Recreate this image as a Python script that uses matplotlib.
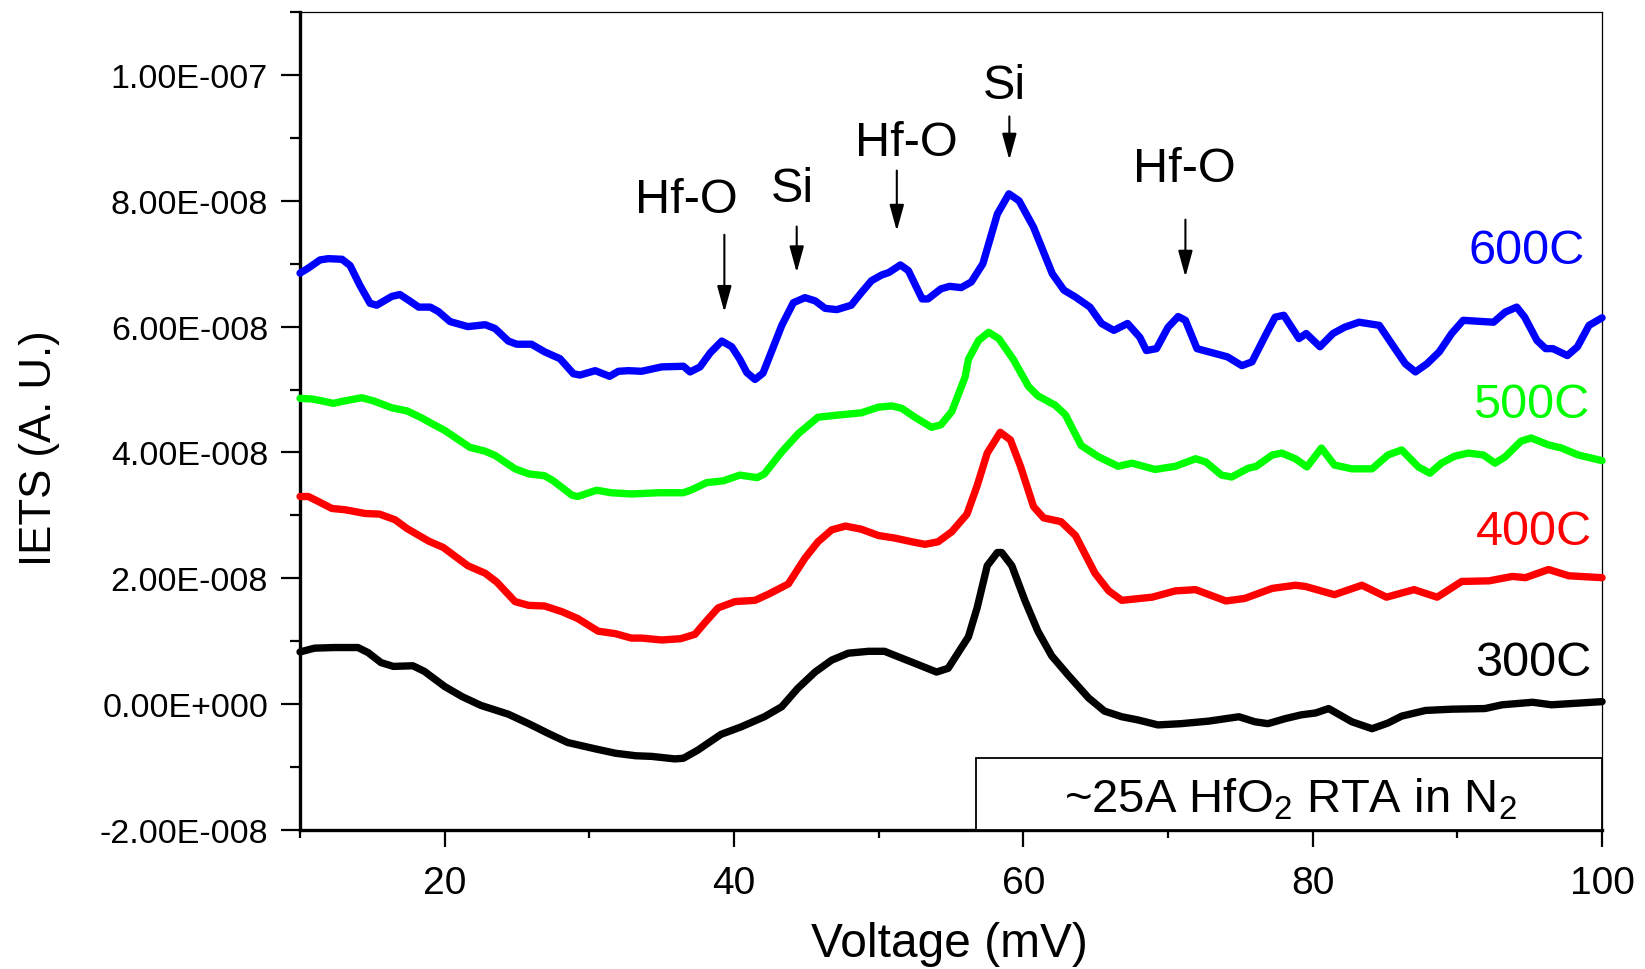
import matplotlib
matplotlib.use("Agg")
import matplotlib.pyplot as plt
from matplotlib.patches import Rectangle
from matplotlib.ticker import MultipleLocator, FuncFormatter

plt.rcParams['font.family'] = ['Liberation Sans', 'DejaVu Sans']
plt.rcParams['mathtext.fontset'] = 'custom'
plt.rcParams['mathtext.rm'] = 'Liberation Sans'
plt.rcParams['mathtext.it'] = 'Liberation Sans:italic'

# IETS data, y values in units of 1e-8
unit = 1e-8

v_600 = [10.0, 10.57, 11.38, 11.96, 12.9, 13.46, 14.15, 14.84, 15.3, 16.34, 16.9, 17.5,
         18.2, 19.0, 19.56, 20.37, 21.6, 22.8, 23.48, 24.4, 24.98, 26.0, 26.9, 27.97,
         28.9, 29.35, 30.4, 31.4, 32.0, 32.7, 33.6, 35.0, 36.5, 36.96, 37.65, 38.34,
         39.15, 39.84, 40.4, 40.88, 41.45, 42.0, 42.6, 43.3, 44.1, 44.9, 45.6, 46.3,
         47.1, 48.1, 48.8, 49.5, 50.2, 50.7, 51.5, 52.05, 53.0, 53.4, 54.3, 54.9, 55.7,
         56.4, 57.2, 58.2, 59.0, 59.7, 60.7, 62.0, 62.8, 63.6, 64.6, 65.4, 66.25, 67.2,
         68.05, 68.5, 69.2, 70.0, 70.7, 71.2, 72.0, 72.8, 74.1, 75.1, 75.8, 76.8, 77.4,
         78.0, 79.05, 79.55, 80.5, 81.4, 82.2, 83.2, 84.6, 85.6, 86.4, 87.1, 87.9, 88.75,
         89.6, 90.4, 92.5, 93.3, 94.1, 94.65, 95.5, 96.1, 96.6, 97.6, 98.3, 99.1, 100.0]
s_600 = [6.85, 6.93, 7.06, 7.08, 7.07, 6.97, 6.65, 6.37, 6.34, 6.48, 6.51, 6.42,
         6.31, 6.31, 6.24, 6.08, 6.00, 6.03, 5.97, 5.77, 5.72, 5.72, 5.60, 5.49,
         5.25, 5.23, 5.30, 5.21, 5.29, 5.30, 5.29, 5.36, 5.37, 5.28, 5.36, 5.58,
         5.77, 5.68, 5.48, 5.27, 5.16, 5.26, 5.61, 6.02, 6.38, 6.46, 6.41, 6.29,
         6.27, 6.34, 6.54, 6.73, 6.82, 6.86, 6.98, 6.89, 6.44, 6.44, 6.60, 6.64, 6.62,
         6.71, 7.00, 7.79, 8.11, 8.00, 7.58, 6.84, 6.58, 6.47, 6.31, 6.05, 5.94, 6.05,
         5.83, 5.62, 5.65, 5.99, 6.16, 6.10, 5.65, 5.60, 5.52, 5.38, 5.44, 5.89, 6.15,
         6.18, 5.81, 5.89, 5.68, 5.89, 5.99, 6.07, 6.02, 5.68, 5.41, 5.28, 5.41, 5.60,
         5.89, 6.10, 6.07, 6.23, 6.31, 6.15, 5.78, 5.65, 5.65, 5.54, 5.68, 6.02, 6.14]

v_500 = [10.0, 10.8, 11.5, 12.3, 13.1, 14.26, 15.07, 16.34, 17.4, 18.4, 19.1, 20.0,
         20.9, 21.75, 22.8, 23.5, 24.86, 25.8, 26.9, 27.5, 28.8, 29.2, 30.5, 31.5,
         32.9, 34.8, 36.5, 37.1, 38.1, 39.27, 40.4, 41.6, 42.1, 43.3, 44.45, 45.8,
         47.0, 48.8, 49.98, 50.9, 51.6, 52.5, 53.65, 54.3, 55.05, 55.97, 56.2, 56.9,
         57.6, 58.3, 59.3, 60.35, 61.0, 62.2, 62.9, 64.0, 65.2, 66.55, 67.5, 69.1,
         70.5, 71.9, 72.6, 73.7, 74.4, 75.55, 76.1, 77.2, 77.86, 78.8, 79.6, 80.6,
         81.5, 82.7, 84.1, 85.2, 86.15, 87.3, 88.1, 88.9, 89.8, 90.75, 91.8, 92.6,
         93.3, 94.4, 95.1, 96.3, 97.2, 98.35, 100.0]
s_500 = [4.86, 4.85, 4.82, 4.78, 4.82, 4.87, 4.82, 4.71, 4.66, 4.55, 4.46, 4.35,
         4.21, 4.08, 4.02, 3.95, 3.74, 3.66, 3.63, 3.55, 3.32, 3.30, 3.40, 3.36,
         3.34, 3.36, 3.36, 3.41, 3.52, 3.55, 3.64, 3.60, 3.66, 4.01, 4.30, 4.56,
         4.59, 4.63, 4.72, 4.74, 4.70, 4.56, 4.40, 4.44, 4.65, 5.20, 5.48, 5.78,
         5.91, 5.81, 5.48, 5.05, 4.90, 4.75, 4.60, 4.11, 3.93, 3.78, 3.83, 3.73,
         3.78, 3.90, 3.85, 3.64, 3.61, 3.75, 3.78, 3.96, 3.99, 3.90, 3.77, 4.07,
         3.80, 3.74, 3.74, 3.96, 4.04, 3.77, 3.67, 3.83, 3.94, 3.99, 3.96, 3.83,
         3.93, 4.18, 4.23, 4.12, 4.07, 3.96, 3.87]

v_400 = [10.0, 10.57, 11.27, 12.2, 13.1, 14.5, 15.5, 16.57, 17.4, 18.9, 19.9, 21.6,
         22.8, 23.6, 24.86, 25.8, 26.9, 28.1, 29.2, 30.6, 31.8, 32.9, 33.6, 35.0,
         36.3, 37.3, 38.0, 38.9, 40.07, 41.45, 42.4, 43.75, 44.9, 45.8, 46.75, 47.7,
         48.8, 49.98, 51.1, 52.3, 53.2, 54.1, 55.05, 56.1, 56.8, 57.5, 58.4, 59.1,
         59.8, 60.7, 61.4, 62.6, 63.6, 64.95, 65.9, 66.8, 68.9, 70.5, 71.9, 74.0,
         75.3, 77.2, 78.8, 79.5, 81.5, 83.4, 85.1, 87.0, 88.6, 90.3, 92.2, 93.8,
         94.7, 96.3, 97.7, 100.0]
s_400 = [3.30, 3.30, 3.22, 3.11, 3.09, 3.03, 3.02, 2.93, 2.79, 2.59, 2.49, 2.20,
         2.08, 1.94, 1.63, 1.57, 1.56, 1.47, 1.36, 1.16, 1.12, 1.05, 1.05, 1.02,
         1.04, 1.11, 1.30, 1.53, 1.63, 1.65, 1.75, 1.91, 2.32, 2.58, 2.77, 2.83,
         2.78, 2.68, 2.64, 2.58, 2.54, 2.58, 2.74, 3.02, 3.47, 3.99, 4.32, 4.20,
         3.78, 3.14, 2.96, 2.90, 2.68, 2.08, 1.80, 1.65, 1.70, 1.80, 1.82, 1.64,
         1.68, 1.84, 1.89, 1.87, 1.74, 1.89, 1.70, 1.82, 1.70, 1.95, 1.96, 2.03,
         2.01, 2.14, 2.04, 2.01]

v_300 = [10.0, 11.0, 12.4, 14.0, 14.7, 15.6, 16.45, 17.8, 18.6, 20.0, 21.2, 22.5,
         24.4, 25.8, 27.2, 28.5, 30.4, 31.8, 33.2, 34.3, 35.9, 36.5, 37.5, 39.1,
         40.5, 42.1, 43.3, 44.4, 45.6, 46.75, 47.9, 49.3, 50.4, 51.6, 52.7, 54.0,
         54.8, 55.5, 56.2, 56.8, 57.5, 58.2, 58.5, 59.2, 60.1, 61.0, 61.95, 63.1,
         64.5, 65.6, 66.8, 67.9, 69.3, 70.9, 72.8, 74.9, 76.0, 76.9, 78.1, 79.2,
         80.2, 81.1, 82.7, 84.1, 85.2, 86.15, 87.8, 89.6, 91.9, 93.1, 95.2, 96.5,
         97.9, 100.0]
s_300 = [0.83, 0.89, 0.90, 0.90, 0.82, 0.66, 0.60, 0.61, 0.52, 0.28, 0.12, -0.02,
         -0.16, -0.31, -0.47, -0.61, -0.71, -0.78, -0.82, -0.83, -0.87, -0.86, -0.73, -0.48,
         -0.36, -0.20, -0.04, 0.25, 0.51, 0.70, 0.81, 0.84, 0.84, 0.73, 0.63, 0.51,
         0.57, 0.82, 1.07, 1.53, 2.20, 2.41, 2.41, 2.20, 1.65, 1.16, 0.77, 0.46,
         0.10, -0.11, -0.20, -0.25, -0.33, -0.31, -0.27, -0.20, -0.28, -0.31, -0.23, -0.17,
         -0.14, -0.07, -0.28, -0.39, -0.30, -0.19, -0.10, -0.08, -0.07, -0.01, 0.03, -0.01,
         0.01, 0.04]

curve_names = ['600C', '500C', '400C', '300C']
curve_colors = ['#0000ff', '#00ff00', '#ff0000', '#000000']
curve_x = [v_600, v_500, v_400, v_300]
curve_y = [s_600, s_500, s_400, s_300]
# where the curve names sit (right edge x, baseline y)
name_pos = [(98.8, 7.01), (99.1, 4.56), (99.27, 2.54), (99.27, 0.47)]

# peak assignments: label, text x, text baseline y, arrow x, arrow top, arrow tip
peak_labels = ['Hf-O', 'Si', 'Hf-O', 'Si', 'Hf-O']
peak_text_x = [36.7, 44.0, 51.9, 58.7, 71.1]
peak_text_y = [7.82, 8.00, 8.73, 9.63, 8.32]
peak_arrow_x = [39.33, 44.33, 51.25, 59.03, 71.2]
peak_arrow_top = [7.46, 7.59, 8.48, 9.34, 7.70]
peak_arrow_tip = [6.23, 6.86, 7.52, 8.65, 6.79]

fig = plt.figure(figsize=(16.45, 9.70), dpi=100)
ax = fig.add_axes([0.1824, 0.1433, 0.7915, 0.8433])

for xs, ys, c in zip(curve_x, curve_y, curve_colors):
    ax.plot(xs, [v * unit for v in ys], color=c, lw=5.3,
            solid_joinstyle='round', solid_capstyle='round', zorder=4, clip_on=False)

for name, c, (tx, ty) in zip(curve_names, curve_colors, name_pos):
    ax.text(tx, ty * unit, name, color=c, fontsize=35, ha='right', va='baseline')

for lab, tx, ty, axx, a0, a1 in zip(peak_labels, peak_text_x, peak_text_y,
                                     peak_arrow_x, peak_arrow_top, peak_arrow_tip):
    ax.text(tx, ty * unit, lab, fontsize=35, ha='center', va='baseline')
    ax.annotate('', xy=(axx, a1 * unit), xytext=(axx, a0 * unit),
                arrowprops=dict(arrowstyle='-|>,head_length=0.8,head_width=0.22',
                                mutation_scale=20, lw=1.5, color='black',
                                shrinkA=0, shrinkB=0))

# sample description box in the lower right corner
box = Rectangle((56.7, -2.0 * unit), 100 - 56.7, 1.14 * unit, facecolor='white',
                edgecolor='black', lw=1.3, zorder=5, clip_on=False)
ax.add_patch(box)
ax.text(78.45, -1.71 * unit, r'~25A HfO$_2$ RTA in N$_2$', fontsize=34,
        ha='center', va='baseline', zorder=6)

ax.set_xlim(10, 100)
ax.set_ylim(-2e-8, 1.1e-7)
ax.xaxis.set_major_locator(MultipleLocator(20))
ax.xaxis.set_minor_locator(MultipleLocator(10))
ax.yaxis.set_major_locator(MultipleLocator(2e-8))
ax.yaxis.set_minor_locator(MultipleLocator(1e-8))


def sci_label(v, pos):
    m, e = f'{v:.2E}'.split('E')
    sign = e[0]
    return f'{m}E{sign}{abs(int(e)):03d}'


ax.yaxis.set_major_formatter(FuncFormatter(sci_label))
ax.tick_params(axis='y', which='major', length=14, width=1.6, labelsize=24.5, pad=9)
ax.tick_params(axis='y', which='minor', length=7, width=1.6)
ax.tick_params(axis='x', which='major', length=12, width=1.6, labelsize=28, pad=13)
ax.tick_params(axis='x', which='minor', length=6, width=1.6)
ax.xaxis.set_major_formatter(FuncFormatter(lambda v, p: f'{v:.0f}'))

for side in ['left', 'bottom']:
    ax.spines[side].set_linewidth(2.4)
for side in ['top', 'right']:
    ax.spines[side].set_linewidth(0.9)

fig.text(0.577, 0.026, 'Voltage (mV)', fontsize=34.5, ha='center', va='center')
fig.text(0.024, 0.538, 'IETS (A. U.)', fontsize=31.5, rotation=90, ha='center', va='center')

fig.savefig('out.png', dpi=100)
